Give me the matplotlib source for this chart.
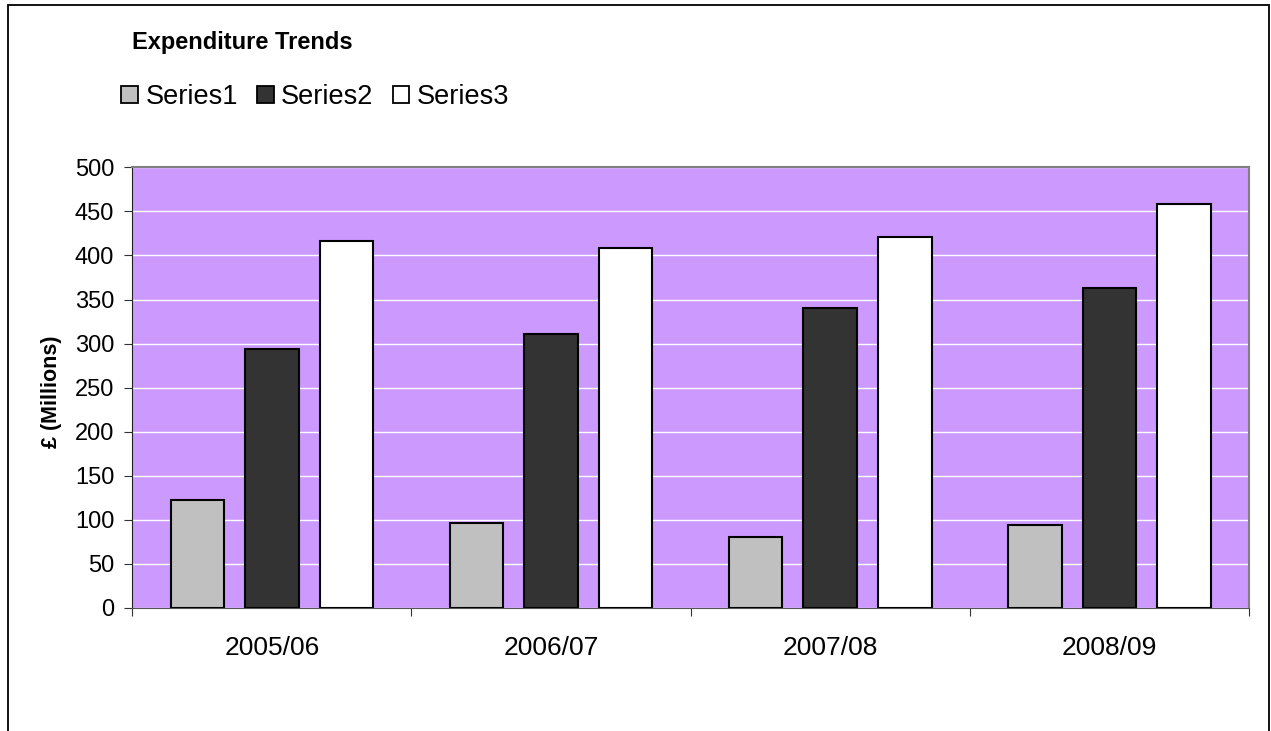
import numpy as np
import matplotlib.pyplot as plt
from matplotlib.patches import Patch, Rectangle

plt.rcParams['font.family'] = ['Liberation Sans', 'DejaVu Sans']

# --- Data ---
years = ["2005/06", "2006/07", "2007/08", "2008/09"]
series_names = ["Series1", "Series2", "Series3"]
series1 = [122, 96, 81, 94]
series2 = [294, 311, 340, 363]
series3 = [416, 408, 421, 458]

colors = ["#C0C0C0", "#333333", "#FFFFFF"]
W, H = 1271, 731

fig = plt.figure(figsize=(W / 100, H / 100), dpi=100)

# Outer chart border (bottom edge falls off the canvas)
fig.patches.append(Rectangle((7.5 / W, -0.05), (1269 - 7.5) / W, 1.05 - 5.5 / H,
                             transform=fig.transFigure, fill=False,
                             edgecolor="black", linewidth=1.3))

ax = fig.add_axes([132.3 / W, 1 - 608 / H, (1249 - 132.3) / W, (608 - 167.3) / H])
ax.set_facecolor("#CC99FF")

x = np.arange(len(years))
offset = 0.267
width = 0.192
for i, (vals, col, name) in enumerate(zip([series1, series2, series3], colors, series_names)):
    ax.bar(x + (i - 1) * offset, vals, width=width, color=col,
           edgecolor="black", linewidth=1.5, zorder=3, label=name)

ax.set_xlim(-0.5, len(years) - 0.5)
ax.set_ylim(0, 500)
ax.set_yticks(np.arange(0, 501, 50))
ax.yaxis.grid(True, color="white", linewidth=1.0, zorder=1)
ax.set_axisbelow(True)

# category boundaries as major ticks, labels on minor ticks at centres
ax.set_xticks(np.arange(-0.5, len(years), 1.0))
ax.set_xticklabels([])
ax.set_xticks(x, minor=True)
ax.set_xticklabels(years, minor=True)
ax.tick_params(axis="x", which="major", length=6, direction="out", color="#333333")
ax.tick_params(axis="x", which="minor", length=0, pad=20, labelsize=19)
ax.tick_params(axis="y", length=6, direction="out", color="#333333", pad=7, labelsize=17)

for side in ("top", "right"):
    ax.spines[side].set_color("#808080")
    ax.spines[side].set_linewidth(1.5)
ax.spines["left"].set_color("#222222")
ax.spines["bottom"].set_color("#555555")

fig.text(51 / W, 1 - 392 / H, "£ (Millions)", rotation=90, fontsize=15.5,
         fontweight="bold", ha="center", va="center")
fig.text(132 / W, 1 - 43 / H, "Expenditure Trends", fontsize=17,
         fontweight="bold", ha="left", va="center")

handles = [Patch(facecolor=c, edgecolor="black", linewidth=1.3) for c in colors]
fig.legend(handles, series_names, loc="center left",
           bbox_to_anchor=(121 / W, 1 - 97 / H), ncol=3, frameon=False,
           fontsize=19.5, handlelength=0.62, handleheight=0.62,
           handletextpad=0.28, columnspacing=0.7, borderaxespad=0, borderpad=0)

fig.savefig("out.png", dpi=100)
